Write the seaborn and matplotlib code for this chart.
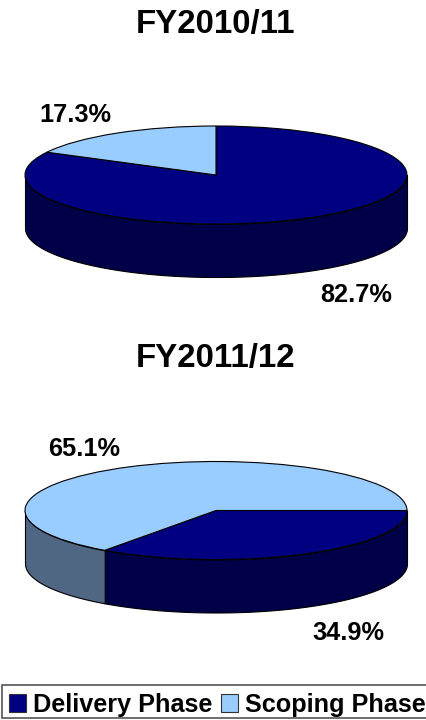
import matplotlib
matplotlib.use('Agg')

import matplotlib.pyplot as plt
import numpy as np
import seaborn as sns
from matplotlib.patches import Patch, Rectangle

sns.set_theme(style='white')
plt.rcParams['font.family'] = ['Liberation Sans', 'DejaVu Sans']
plt.rcParams['font.weight'] = 'bold'

phases = ['Delivery Phase', 'Scoping Phase']
years = ['FY2010/11', 'FY2011/12']
shares_1011 = [82.7, 17.3]
shares_1112 = [34.9, 65.1]

top_colors = sns.color_palette(['#000080', '#99CCFF'])
side_colors = sns.color_palette(['#000048', '#4F6783'])

W, H = 427, 720
CX, RX = 216, 191
RY, DEPTH = 49, 53


def pie_3d(fig, cy, shares, start, title, title_y, label_pos):
    """Flat pie squashed into an ellipse, with the rim drawn below it."""
    ax = fig.add_axes([0, 0, 1, 1], facecolor='none')
    wedges, _ = ax.pie(shares, colors=top_colors, startangle=start, counterclock=False,
                       wedgeprops={'edgecolor': 'black', 'linewidth': 0.8, 'zorder': 3})
    ax.set_aspect('auto')
    ax.set_xlim(-CX / RX, (W - CX) / RX)
    ax.set_ylim((cy - H) / RY, cy / RY)

    # rim: only the front half of each slice (-180..0 deg) shows
    depth = DEPTH / RY
    for wedge, col in zip(wedges, side_colors):
        for shift in (-360, 0, 360):
            lo = max(wedge.theta1 + shift, -180)
            hi = min(wedge.theta2 + shift, 0)
            if hi <= lo:
                continue
            t = np.radians(np.linspace(lo, hi, 200))
            ax.fill_between(np.cos(t), np.sin(t), np.sin(t) - depth, facecolor=col,
                            edgecolor='black', linewidth=0.8, zorder=2)

    fig.text(215.5 / W, 1 - title_y / H, title, ha='center', va='center', fontsize=23.8,
             fontweight='bold', color='black')
    for val, (x, y) in zip(shares, label_pos):
        fig.text(x / W, 1 - y / H, f'{val:.1f}%', ha='center', va='center', fontsize=18.3,
                 fontweight='bold', color='black')


fig = plt.figure(figsize=(W / 100, H / 100), dpi=100, facecolor='white')

pie_3d(fig, 175, shares_1011, 90, years[0], 24, [(356.5, 295), (75.5, 115)])
pie_3d(fig, 510.5, shares_1112, 0, years[1], 358, [(348.5, 633), (84.5, 449)])

# legend frame runs off the right edge, so it is drawn apart from the legend
fig.add_artist(Rectangle((2 / W, 1 - 718 / H), 430 / W, 33 / H, transform=fig.transFigure,
                         facecolor='white', edgecolor='#555555', linewidth=1.2))
handles = [Patch(facecolor=c, edgecolor='#333333', linewidth=0.8) for c in top_colors]
fig.legend(handles, phases, ncol=2, loc='lower left', bbox_to_anchor=(9 / W, 1 - 717 / H),
           borderaxespad=0, fontsize=18.2, frameon=False, handlelength=0.68, handleheight=0.68,
           handletextpad=0.28, columnspacing=0.32, borderpad=0, labelcolor='black')

fig.savefig('out.png', dpi=100)
plt.close(fig)
